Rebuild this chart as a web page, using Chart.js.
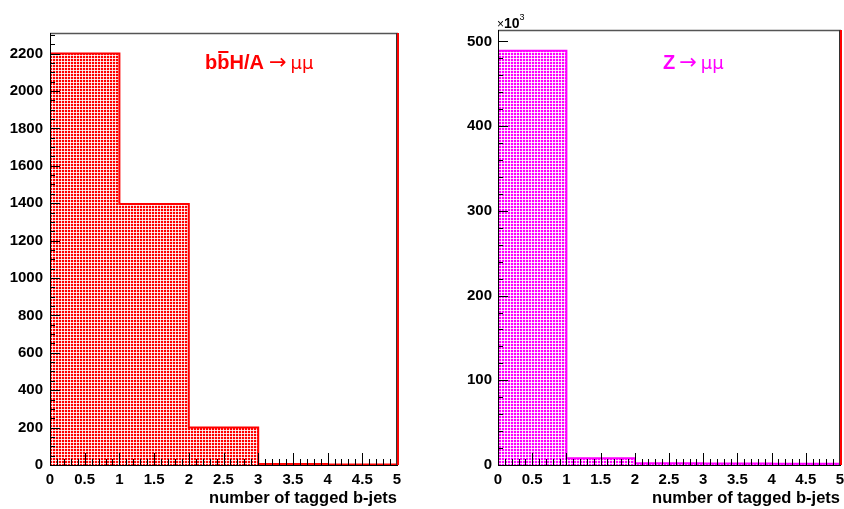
<!DOCTYPE html>
<html>
<head>
<meta charset="utf-8">
<script src="https://cdn.jsdelivr.net/npm/chart.js@4.4.1/dist/chart.umd.min.js"></script>
<style>
  html, body { margin: 0; padding: 0; background: #fff; }
  #wrap { position: relative; width: 844px; height: 509px; overflow: hidden; }
  .panel { position: absolute; top: 0; width: 422px; height: 509px; }
  canvas { display: block; }
</style>
</head>
<body>
<div id="wrap">
  <div class="panel" style="left:0"><canvas id="bbh" width="422" height="509"></canvas></div>
  <div class="panel" style="left:422px"><canvas id="zmm" width="422" height="509"></canvas></div>
</div>
<script>
// Histogram bins: number of tagged b-jets, 0..5
const binEdges = [0, 1, 2, 3, 4, 5];
const xTickValues = [0, 0.5, 1, 1.5, 2, 2.5, 3, 3.5, 4, 4.5, 5];

// bbH/A -> mumu event counts per bin
const bbhCounts = [2200, 1395, 200, 5, 3];
const bbhYTicks = [0, 200, 400, 600, 800, 1000, 1200, 1400, 1600, 1800, 2000, 2200];

// Z -> mumu event counts per bin, in units of 10^3
const zCounts = [489, 8.0, 2.2, 1.8, 1.6];
const zYTicks = [0, 100, 200, 300, 400, 500];

const FONT = "'Liberation Sans', Arial, Helvetica, sans-serif";
const SYM = "'DejaVu Sans', sans-serif";

// 3x3 dot tile used as the hatched fill: coloured grid with a white dot per cell
function hatchTile(base, light) {
  const t = document.createElement('canvas');
  t.width = 3; t.height = 3;
  const g = t.getContext('2d');
  g.fillStyle = base; g.fillRect(0, 0, 3, 3);
  g.fillStyle = light;
  g.fillRect(0, 1, 1, 1); g.fillRect(1, 0, 1, 1);
  g.fillRect(2, 1, 1, 1); g.fillRect(1, 2, 1, 1);
  g.fillStyle = '#ffffff'; g.fillRect(1, 1, 1, 1);
  return t;
}

// step outline of a histogram, built from the bin edges and contents
function stepOutline(edges, counts) {
  const pts = [{ x: edges[0], y: 0 }];
  counts.forEach((c, i) => {
    pts.push({ x: edges[i], y: c });
    pts.push({ x: edges[i + 1], y: c });
  });
  pts.push({ x: edges[edges.length - 1], y: 0 });
  return pts;
}

// frame with inward tick marks, plus the in-frame title
const framePlugin = {
  id: 'rootFrame',
  afterDatasetsDraw(chart, args, o) {
    const { ctx, chartArea: a } = chart;
    const xs = chart.scales.x, ys = chart.scales.y;
    ctx.save();
    ctx.strokeStyle = '#000';
    ctx.lineWidth = 1;
    ctx.beginPath();
    const nx = Math.round((xs.max - xs.min) / o.xMinor);
    for (let i = 0; i <= nx; i++) {
      const v = xs.min + i * o.xMinor;
      const r = v / o.xMajor;
      const major = Math.abs(r - Math.round(r)) < 1e-6;
      const px = Math.round(xs.getPixelForValue(v)) + 0.5;
      ctx.moveTo(px, a.bottom);
      ctx.lineTo(px, a.bottom - (major ? 12 : 6));
    }
    const ny = Math.floor(ys.max / o.yMinor + 1e-9);
    for (let i = 0; i <= ny; i++) {
      const v = i * o.yMinor;
      const r = v / o.yMajor;
      const major = Math.abs(r - Math.round(r)) < 1e-6;
      const py = Math.round(ys.getPixelForValue(v)) + 0.5;
      ctx.moveTo(a.left, py);
      ctx.lineTo(a.left + (major ? 10 : 5), py);
    }
    ctx.stroke();

    // top edge
    ctx.strokeStyle = '#555';
    ctx.lineWidth = 1.5;
    ctx.beginPath();
    ctx.moveTo(a.left, a.top + 0.5); ctx.lineTo(a.right + 1, a.top + 0.5);
    ctx.stroke();
    // left and bottom axes
    ctx.strokeStyle = '#000';
    ctx.lineWidth = 1;
    ctx.beginPath();
    ctx.moveTo(a.left + 0.5, a.top); ctx.lineTo(a.left + 0.5, a.bottom + 0.5);
    ctx.lineTo(a.right + 1, a.bottom + 0.5);
    ctx.stroke();
    // right edge
    ctx.strokeStyle = '#333';
    ctx.beginPath();
    ctx.moveTo(a.right - 0.5, a.top); ctx.lineTo(a.right - 0.5, a.bottom);
    ctx.stroke();
    ctx.strokeStyle = '#ff0000';
    ctx.lineWidth = 2;
    ctx.beginPath();
    ctx.moveTo(a.right + 1, a.top); ctx.lineTo(a.right + 1, a.bottom);
    ctx.stroke();
    ctx.restore();
  },
  afterDraw(chart, args, o) {
    const { ctx, chartArea: a } = chart;
    ctx.save();
    ctx.textBaseline = 'alphabetic';
    ctx.textAlign = 'left';
    let x = a.left + o.titleDx;
    const y = o.titleY;
    for (const p of o.title) {
      ctx.font = p.font;
      ctx.fillStyle = o.color;
      const w = ctx.measureText(p.text).width;
      ctx.fillText(p.text, x + (p.dx || 0), y);
      if (p.overline) {
        ctx.fillRect(x + 1, y - 18, w - 2, 2);
      }
      x += w + (p.dx || 0);
    }
    if (o.exponent) {
      ctx.fillStyle = '#000';
      let ex = a.left - 1;
      ctx.font = '12px ' + FONT;
      ctx.fillText('\u00d7', ex, 28);
      ex += ctx.measureText('\u00d7').width;
      ctx.font = 'bold 14px ' + FONT;
      ctx.fillText('10', ex, 28);
      ex += ctx.measureText('10').width;
      ctx.font = '9px ' + FONT;
      ctx.fillText(o.exponent, ex, 20);
    }
    ctx.restore();
  }
};

function makeHist(canvasId, cfg) {
  const canvas = document.getElementById(canvasId);
  const ctx = canvas.getContext('2d');
  const fill = ctx.createPattern(hatchTile(cfg.color, cfg.light), 'repeat');
  const yMax = Math.max(...cfg.counts) * 1.05;
  const xMin = binEdges[0], xMax = binEdges[binEdges.length - 1];
  return new Chart(ctx, {
    type: 'line',
    data: {
      datasets: [
        {
          data: stepOutline(binEdges, cfg.counts),
          borderColor: cfg.color,
          borderWidth: 2,
          pointRadius: 0,
          fill: 'origin',
          backgroundColor: fill,
          tension: 0
        }
      ]
    },
    options: {
      responsive: false,
      animation: false,
      devicePixelRatio: 1,
      layout: { padding: { left: 0, right: cfg.padRight, top: cfg.padTop, bottom: 0 } },
      plugins: {
        legend: { display: false },
        tooltip: { enabled: false },
        rootFrame: {
          xMinor: 0.1, xMajor: 0.5,
          yMinor: cfg.yMinor, yMajor: cfg.yMajor,
          color: cfg.color,
          title: cfg.title,
          titleDx: cfg.titleDx,
          titleY: 69,
          exponent: cfg.exponent
        }
      },
      scales: {
        x: {
          type: 'linear',
          position: 'bottom',
          min: xMin,
          max: xMax,
          offset: false,
          grid: { display: false, drawTicks: false },
          border: { display: false },
          afterBuildTicks(s) { s.ticks = xTickValues.map(v => ({ value: v })); },
          afterFit(s) { s.height = 44; s.paddingLeft = 0; s.paddingRight = 0; },
          ticks: {
            padding: 6,
            color: '#000',
            maxRotation: 0,
            autoSkip: false,
            font: { family: FONT, size: 15, weight: 'bold' },
            callback: v => String(v)
          },
          title: {
            display: true,
            text: 'number of tagged b-jets',
            align: 'end',
            color: '#000',
            padding: { top: 0, bottom: 1 },
            font: { family: FONT, size: 16.5, weight: 'bold' }
          }
        },
        y: {
          type: 'linear',
          min: 0,
          max: yMax,
          grid: { display: false, drawTicks: false },
          border: { display: false },
          afterBuildTicks(s) { s.ticks = cfg.yTicks.map(v => ({ value: v })); },
          afterFit(s) { s.width = cfg.yWidth; s.paddingTop = 0; s.paddingBottom = 0; },
          ticks: {
            padding: cfg.yPad,
            color: '#000',
            autoSkip: false,
            font: { family: FONT, size: 15, weight: 'bold' },
            callback: v => String(v)
          }
        }
      }
    },
    plugins: [framePlugin]
  });
}

makeHist('bbh', {
  counts: bbhCounts,
  yTicks: bbhYTicks,
  color: '#ff0000',
  light: '#ffd4d4',
  yWidth: 50,
  yPad: 7,
  padRight: 25,
  padTop: 33,
  yMinor: 50,
  yMajor: 200,
  titleDx: 155,
  title: [
    { text: 'b', font: 'bold 20px ' + FONT },
    { text: 'b', font: 'bold 20px ' + FONT, overline: true },
    { text: 'H/A', font: 'bold 20px ' + FONT },
    { text: '\u2192', font: '21px ' + SYM, dx: 5 },
    { text: '\u03bc\u03bc', font: '18px ' + SYM, dx: 4 }
  ]
});

makeHist('zmm', {
  counts: zCounts,
  yTicks: zYTicks,
  color: '#ff00ff',
  light: '#ffd4ff',
  yWidth: 76,
  yPad: 6,
  padRight: 4,
  padTop: 30,
  yMinor: 20,
  yMajor: 100,
  titleDx: 165,
  exponent: '3',
  title: [
    { text: 'Z', font: 'bold 20px ' + FONT },
    { text: '\u2192', font: '21px ' + SYM, dx: 4 },
    { text: '\u03bc\u03bc', font: '18px ' + SYM, dx: 4 }
  ]
});
</script>
</body>
</html>
